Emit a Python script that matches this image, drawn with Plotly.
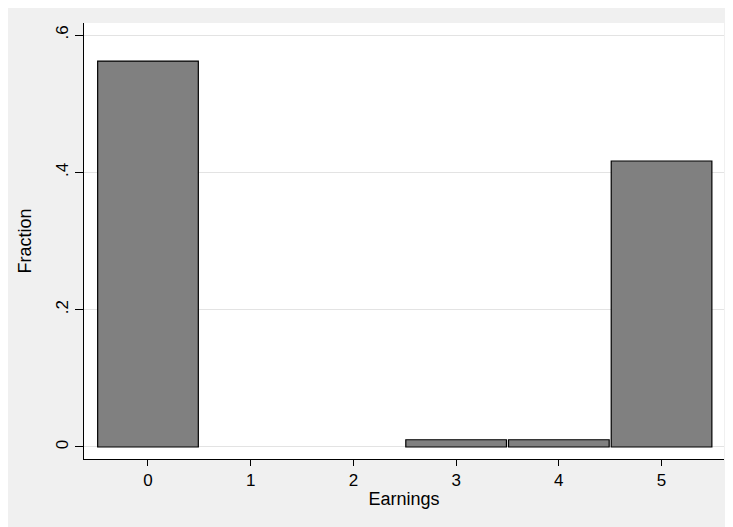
import plotly.graph_objects as go

# Data
categories = [0, 1, 2, 3, 4, 5]
fractions = [0.562, 0.0, 0.0, 0.0105, 0.0105, 0.4165]
y_tickvals = [0, 0.2, 0.4, 0.6]
y_ticktext = ["0", ".2", ".4", ".6"]
x_tickvals = [0, 1, 2, 3, 4, 5]

# page has an 8px body margin; figure extends past the window edge so the
# grey background reaches the right and bottom borders
W, H = 733, 527
L, R, T, B = 76, 17, 15, 76

outline_widths = [1.2 if v > 0 else 0 for v in fractions]

fig = go.Figure()
fig.add_trace(go.Bar(
    x=categories, y=fractions,
    marker=dict(color="#808080", line=dict(color="black", width=outline_widths)),
    width=0.98,
    hoverinfo="x+y",
))

fam = "Liberation Sans, Arial, sans-serif"
tickfont = dict(family=fam, size=17, color="black")
titlefont = dict(family=fam, size=18, color="black")

fig.update_layout(
    width=W, height=H,
    margin=dict(l=L, r=R, t=T, b=B, pad=0),
    paper_bgcolor="#f0f0f0",
    plot_bgcolor="white",
    showlegend=False,
    font=tickfont,
    xaxis=dict(
        range=[-0.623, 5.608],
        tickvals=x_tickvals,
        ticks="outside", ticklen=6, tickcolor="black", tickwidth=1,
        showline=True, linecolor="black", linewidth=1,
        showgrid=False, zeroline=False,
        tickfont=tickfont,
        title=dict(text="Earnings", font=titlefont, standoff=2),
    ),
    yaxis=dict(
        range=[-0.0175, 0.6175],
        tickvals=y_tickvals, ticktext=y_ticktext,
        tickangle=-90,
        ticks="outside", ticklen=8, tickcolor="black", tickwidth=1,
        showline=True, linecolor="black", linewidth=1,
        showgrid=True, gridcolor="#e3e3e3", gridwidth=1,
        zeroline=False,
        tickfont=tickfont,
        title=dict(text="Fraction", font=titlefont, standoff=16),
    ),
)

fig.write_html("out.html")
